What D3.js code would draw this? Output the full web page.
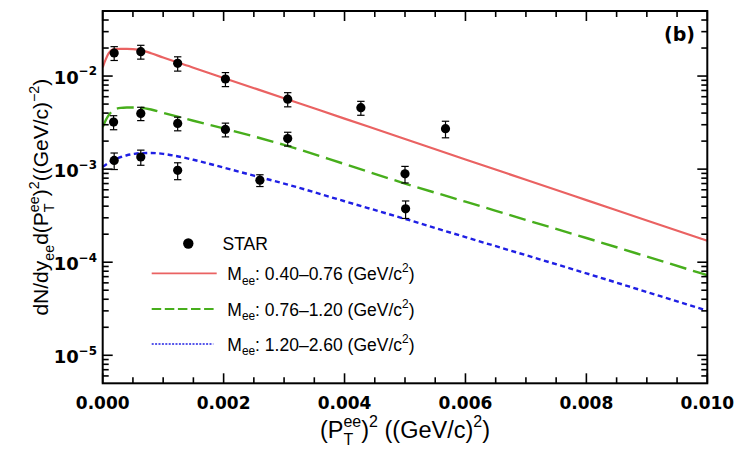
<!DOCTYPE html>
<html>
<head>
<meta charset="utf-8">
<script src="https://cdn.jsdelivr.net/npm/d3@7"></script>
<style>
  html, body { margin: 0; padding: 0; background: #fff; }
  svg { display: block; }
</style>
</head>
<body>
<svg id="chart" width="739" height="449"></svg>
<script>
// ---------------- DATA ----------------
const xTickValues = [0, 0.002, 0.004, 0.006, 0.008, 0.010];
const xTickLabels = ["0.000", "0.002", "0.004", "0.006", "0.008", "0.010"];
const yTickExponents = [-2, -3, -4, -5];

// STAR data points (x = (pT^ee)^2, y, error)
const starX1 = [0.00019, 0.00063, 0.00124, 0.00203, 0.00306, 0.00427, 0.00567];
const starY1 = [0.0177, 0.0183, 0.0137, 0.0093, 0.00565, 0.00457, 0.00272];
const starE1 = [0.0030, 0.0031, 0.0024, 0.0016, 0.00098, 0.00078, 0.00055];

const starX2 = [0.00018, 0.00063, 0.00124, 0.00203, 0.00306, 0.00500];
const starY2 = [0.0032, 0.00397, 0.0031, 0.00267, 0.00213, 0.00089];
const starE2 = [0.00055, 0.00065, 0.00052, 0.00045, 0.00036, 0.00018];

const starX3 = [0.00019, 0.00063, 0.00124, 0.00260, 0.00501];
const starY3 = [0.00124, 0.00135, 0.00097, 0.00076, 0.000375];
const starE3 = [0.00025, 0.00025, 0.00020, 0.00011, 0.00008];

// Model curves
const curveX = [0, 0.00005, 0.0001, 0.00015, 0.0002, 0.0003, 0.0004, 0.0005, 0.0006, 0.0008,
                0.001, 0.0015, 0.002, 0.003, 0.004, 0.005, 0.006, 0.007, 0.008, 0.009, 0.010];
const curveRed = [0.0124, 0.0151, 0.0176, 0.0191, 0.0195, 0.0196, 0.0196, 0.0195, 0.0191, 0.0176,
                  0.0158, 0.0123, 0.00955, 0.00578, 0.00349, 0.00211, 0.00127, 0.000769, 0.000465, 0.000281, 0.000170];
const curveGreen = [0.00283, 0.00335, 0.0038, 0.00417, 0.00439, 0.00455, 0.00459, 0.0046, 0.00458, 0.00437,
                    0.00403, 0.00331, 0.00274, 0.00182, 0.001135, 0.00070, 0.000447, 0.000285, 0.000182, 0.000115, 0.0000724];
const curveBlueX = [0, 0.0001, 0.0002, 0.0003, 0.0004, 0.0005, 0.0006, 0.0008, 0.001, 0.0012,
                    0.0015, 0.002, 0.0025, 0.003, 0.004, 0.005, 0.006, 0.007, 0.008, 0.009, 0.010];
const curveBlue = [0.00106, 0.00117, 0.00127, 0.00135, 0.00141, 0.00145, 0.00148, 0.00149, 0.00146, 0.00139,
                   0.00126, 0.00104, 0.000851, 0.00070, 0.000452, 0.000292, 0.000186, 0.000119, 0.0000759, 0.0000479, 0.0000302];

const legendLabels = ["0.40\u20130.76", "0.76\u20131.20", "1.20\u20132.60"];

// ---------------- LAYOUT ----------------
const W = 739, H = 449;
const m = { left: 102.7, right: 31.7, top: 11, bottom: 65.7 };
const x = d3.scaleLinear().domain([0, 0.01]).range([m.left, W - m.right]);
const y = d3.scaleLog().domain([5e-6, 5e-2]).range([H - m.bottom, m.top]);

const svg = d3.select("#chart");
const colors = { red: "#ea6262", green: "#47ae1c", blue: "#1f1fe4" };
const SANS = "Liberation Sans, Arial, sans-serif";
const BOLD = "DejaVu Sans, sans-serif";

// rich text helper: segments of {t, s (scale), dy (em shift)} or {stack:[...]}
function richText(parent, segs, px, py, size, opts = {}) {
  const g = parent.append("g");
  let cx = 0;
  segs.forEach(seg => {
    if (seg.stack) {
      let wmax = 0;
      seg.stack.forEach(sub => {
        const t = g.append("text")
          .attr("x", cx).attr("y", (sub.dy || 0) * size)
          .attr("font-size", size * (sub.s || 1))
          .attr("font-family", opts.family || SANS)
          .attr("font-weight", opts.weight || "normal")
          .attr("fill", "#000")
          .text(sub.t);
        wmax = Math.max(wmax, t.node().getComputedTextLength());
      });
      cx += wmax;
    } else {
      const t = g.append("text")
        .attr("x", cx).attr("y", (seg.dy || 0) * size)
        .attr("font-size", size * (seg.s || 1))
        .attr("font-family", opts.family || SANS)
        .attr("font-weight", opts.weight || "normal")
        .attr("fill", "#000")
        .attr("xml:space", "preserve")
        .style("white-space", "pre")
        .text(seg.t);
      cx += t.node().getComputedTextLength();
    }
  });
  let ox = 0;
  if (opts.anchor === "middle") ox = -cx / 2;
  else if (opts.anchor === "end") ox = -cx;
  const rot = opts.rotate ? ` rotate(${opts.rotate})` : "";
  g.attr("transform", `translate(${px},${py})${rot} translate(${ox},0)`);
  return g;
}

// ---------------- CURVES ----------------
const lineGen = d3.line().x(d => x(d[0])).y(d => y(d[1])).curve(d3.curveMonotoneX);
const plot = svg.append("g");
plot.append("defs").append("clipPath").attr("id", "clip")
  .append("rect").attr("x", m.left).attr("y", m.top)
  .attr("width", W - m.left - m.right).attr("height", H - m.top - m.bottom);
const curves = plot.append("g").attr("clip-path", "url(#clip)");

curves.append("path").datum(d3.zip(curveX, curveRed)).attr("d", lineGen)
  .attr("fill", "none").attr("stroke", colors.red).attr("stroke-width", 2.2);
curves.append("path").datum(d3.zip(curveX, curveGreen)).attr("d", lineGen)
  .attr("fill", "none").attr("stroke", colors.green).attr("stroke-width", 2.4)
  .attr("stroke-dasharray", "17,7");
curves.append("path").datum(d3.zip(curveBlueX, curveBlue)).attr("d", lineGen)
  .attr("fill", "none").attr("stroke", colors.blue).attr("stroke-width", 2.4)
  .attr("stroke-dasharray", "5,3.5");

// ---------------- DATA POINTS ----------------
function drawPoints(xs, ys, es) {
  const g = plot.append("g");
  xs.forEach((xv, i) => {
    const cx = x(xv);
    const yHi = y(ys[i] + es[i]), yLo = y(ys[i] - es[i]);
    g.append("line").attr("x1", cx).attr("x2", cx).attr("y1", yHi).attr("y2", yLo)
      .attr("stroke", "#000").attr("stroke-width", 1.2);
    [yHi, yLo].forEach(yy => g.append("line").attr("x1", cx - 3.7).attr("x2", cx + 3.7)
      .attr("y1", yy).attr("y2", yy).attr("stroke", "#000").attr("stroke-width", 1.2));
    g.append("circle").attr("cx", cx).attr("cy", y(ys[i])).attr("r", 4.6).attr("fill", "#000");
  });
}
drawPoints(starX1, starY1, starE1);
drawPoints(starX2, starY2, starE2);
drawPoints(starX3, starY3, starE3);

// ---------------- AXES / FRAME ----------------
const axG = svg.append("g");
const x0 = m.left, x1 = W - m.right, y0 = H - m.bottom, y1 = m.top;
axG.append("rect").attr("x", x0).attr("y", y1).attr("width", x1 - x0).attr("height", y0 - y1)
  .attr("fill", "none").attr("stroke", "#000").attr("stroke-width", 2);

// x ticks (major and minor), bottom and top
const xMinor = d3.range(0, 0.0100001, 0.0005);
xMinor.forEach(v => {
  const isMajor = Math.abs(v / 0.002 - Math.round(v / 0.002)) < 1e-6;
  const len = isMajor ? 10 : 6;
  const px = x(v);
  axG.append("line").attr("x1", px).attr("x2", px).attr("y1", y0).attr("y2", y0 - len)
    .attr("stroke", "#000").attr("stroke-width", 1.6);
  axG.append("line").attr("x1", px).attr("x2", px).attr("y1", y1).attr("y2", y1 + len)
    .attr("stroke", "#000").attr("stroke-width", 1.6);
});
xTickValues.forEach((v, i) => {
  axG.append("text").attr("x", x(v)).attr("y", 408.5).attr("text-anchor", "middle")
    .attr("font-family", BOLD).attr("font-weight", "bold").attr("font-size", 17)
    .attr("fill", "#000").text(xTickLabels[i]);
});

// y ticks: majors and minors (2..9 per decade)
const yMin = 5e-6, yMax = 5e-2;
for (let e = -6; e <= -2; e++) {
  for (let k = 1; k <= 9; k++) {
    const v = k * Math.pow(10, e);
    if (v < yMin || v > yMax) continue;
    const len = k === 1 ? 10 : 6;
    const py = y(v);
    axG.append("line").attr("x1", x0).attr("x2", x0 + len).attr("y1", py).attr("y2", py)
      .attr("stroke", "#000").attr("stroke-width", 1.6);
    axG.append("line").attr("x1", x1).attr("x2", x1 - len).attr("y1", py).attr("y2", py)
      .attr("stroke", "#000").attr("stroke-width", 1.6);
  }
}
yTickExponents.forEach(e => {
  richText(axG, [{ t: "10" }, { t: "\u2212" + Math.abs(e), s: 0.66, dy: -0.45 }],
    97, y(Math.pow(10, e)) + 7.5, 18, { anchor: "end", family: BOLD, weight: "bold" });
});

// ---------------- AXIS TITLES ----------------
richText(svg, [
  { t: "(P" },
  { stack: [{ t: "ee", s: 0.68, dy: -0.45 }, { t: "T", s: 0.68, dy: 0.28 }] },
  { t: ")" }, { t: "2", s: 0.68, dy: -0.45 },
  { t: " ((GeV/c)" }, { t: "2", s: 0.68, dy: -0.45 }, { t: ")" }
], (x0 + x1) / 2, 438, 23.5, { anchor: "middle" });

richText(svg, [
  { t: "dN/dy" }, { t: "ee", s: 0.68, dy: 0.28 },
  { t: "d(P" },
  { stack: [{ t: "ee", s: 0.68, dy: -0.45 }, { t: "T", s: 0.68, dy: 0.28 }] },
  { t: ")" }, { t: "2", s: 0.68, dy: -0.45 },
  { t: "((GeV/c)" }, { t: "\u22122", s: 0.68, dy: -0.45 }, { t: ")" }
], 48, (y0 + y1) / 2, 21, { anchor: "middle", rotate: -90 });

// panel label
svg.append("text").attr("x", 695).attr("y", 41).attr("text-anchor", "end")
  .attr("font-family", BOLD).attr("font-weight", "bold").attr("font-size", 19)
  .attr("fill", "#000").text("(b)");

// ---------------- LEGEND ----------------
const lg = svg.append("g");
lg.append("circle").attr("cx", 188.3).attr("cy", 243.5).attr("r", 5.2).attr("fill", "#000");
richText(lg, [{ t: "STAR" }], 222.5, 249.5, 17.5, {});
const legendStyles = [
  { c: colors.red, dash: null, w: 1.8, x2: 216.7 },
  { c: colors.green, dash: "9.5,3.6", w: 2, x2: 216.7 },
  { c: colors.blue, dash: "2,1.4", w: 1.6, x2: 213.3 }
];
const legendY = [273.3, 309, 344];
legendLabels.forEach((lab, i) => {
  const st = legendStyles[i];
  lg.append("line").attr("x1", 151.7).attr("x2", st.x2).attr("y1", legendY[i]).attr("y2", legendY[i])
    .attr("stroke", st.c).attr("stroke-width", st.w)
    .attr("stroke-dasharray", st.dash);
  richText(lg, [
    { t: "M" }, { t: "ee", s: 0.68, dy: 0.28 },
    { t: ": " + lab + " (GeV/c" }, { t: "2", s: 0.68, dy: -0.45 }, { t: ")" }
  ], 227.3, legendY[i] + 6.5, 17.5, {});
});
</script>
</body>
</html>
